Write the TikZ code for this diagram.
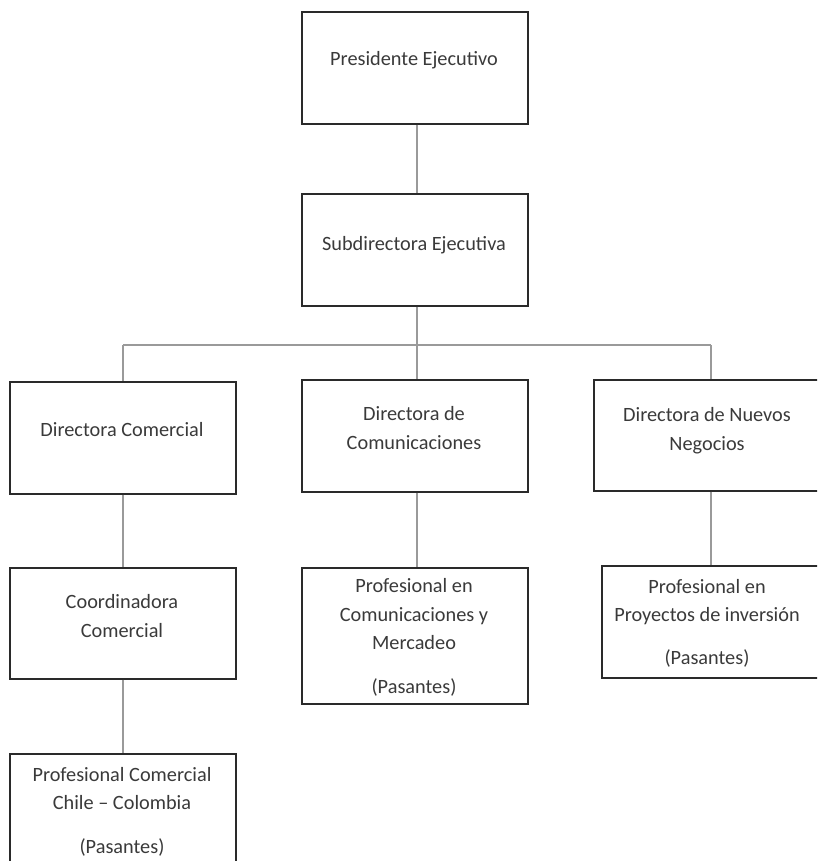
\documentclass[tikz,border=0pt]{standalone}
\usepackage{fontspec}
\setmainfont{Carlito}
\definecolor{boxline}{HTML}{2A2A2A}
\definecolor{connline}{HTML}{9A9A9A}
\definecolor{txtcol}{HTML}{3A3A3A}
\begin{document}
\begin{tikzpicture}[x=1pt,y=-1pt,
  box/.style={draw=boxline,line width=1.6pt,rectangle,anchor=north west,inner sep=0pt},
  conn/.style={draw=connline,line width=1.5pt},
  lbl/.style={text=txtcol,align=center,anchor=base,inner sep=0pt,font=\fontsize{20.3}{28.5}\selectfont}
]
\useasboundingbox (0,0) rectangle (817,861);
\begin{scope}
\clip (0,0) rectangle (817,861);
% boxes
\node[box,minimum width=226pt,minimum height=112pt] (pres) at (301,11) {};
\node[box,minimum width=226pt,minimum height=112pt] (sub) at (301,193) {};
\node[box,minimum width=226pt,minimum height=112pt] (dcom) at (9,381) {};
\node[box,minimum width=226pt,minimum height=112pt] (dcomu) at (301,379) {};
\node[box,minimum width=250pt,minimum height=111pt] (dnue) at (593,379) {};
\node[box,minimum width=226pt,minimum height=111pt] (coord) at (9,567) {};
\node[box,minimum width=226pt,minimum height=136pt] (pcomu) at (301,567) {};
\node[box,minimum width=240pt,minimum height=112pt] (pproy) at (601,565) {};
\node[box,minimum width=226pt,minimum height=140pt] (pcom) at (9,753) {};
% junction coordinates
\coordinate (jm) at (417,345);
\coordinate (jl) at (123,345);
\coordinate (jr) at (711,345);
% connectors
\draw[conn] (jm |- pres.south) -- (jm |- sub.north);
\draw[conn] (jm |- sub.south) -- (jm);
\draw[conn] (jl) -- (jr);
\draw[conn] (jl) -- (jl |- dcom.north);
\draw[conn] (jm) -- (jm |- dcomu.north);
\draw[conn] (jr) -- (jr |- dnue.north);
\draw[conn] (jl |- dcom.south) -- (jl |- coord.north);
\draw[conn] (jm |- dcomu.south) -- (jm |- pcomu.north);
\draw[conn] (jr |- dnue.south) -- (jr |- pproy.north);
\draw[conn] (jl |- coord.south) -- (jl |- pcom.north);
% labels (anchor = baseline of last line)
\node[lbl] (tpres) at (414,66) {Presidente Ejecutivo};
\node[lbl] (tsub) at (414,250) {Subdirectora Ejecutiva};
\node[lbl] (tdcom) at (122,436) {Directora Comercial};
\node[lbl] (tdcomu) at (414,449) {Directora de\\Comunicaciones};
\node[lbl] (tdnue) at (707,450) {Directora de Nuevos\\Negocios};
\node[lbl] (tcoord) at (122,637) {Coordinadora\\Comercial};
\node[lbl] (tpcom) at (122,853) {Profesional Comercial\\Chile – Colombia\\[15pt](Pasantes)};
\node[lbl] (tpcomu) at (414,693) {Profesional en\\Comunicaciones y\\Mercadeo\\[15pt](Pasantes)};
\node[lbl] (tpproy) at (707,664) {Profesional en\\Proyectos de inversión\\[14pt](Pasantes)};
\end{scope}
\end{tikzpicture}
\end{document}
